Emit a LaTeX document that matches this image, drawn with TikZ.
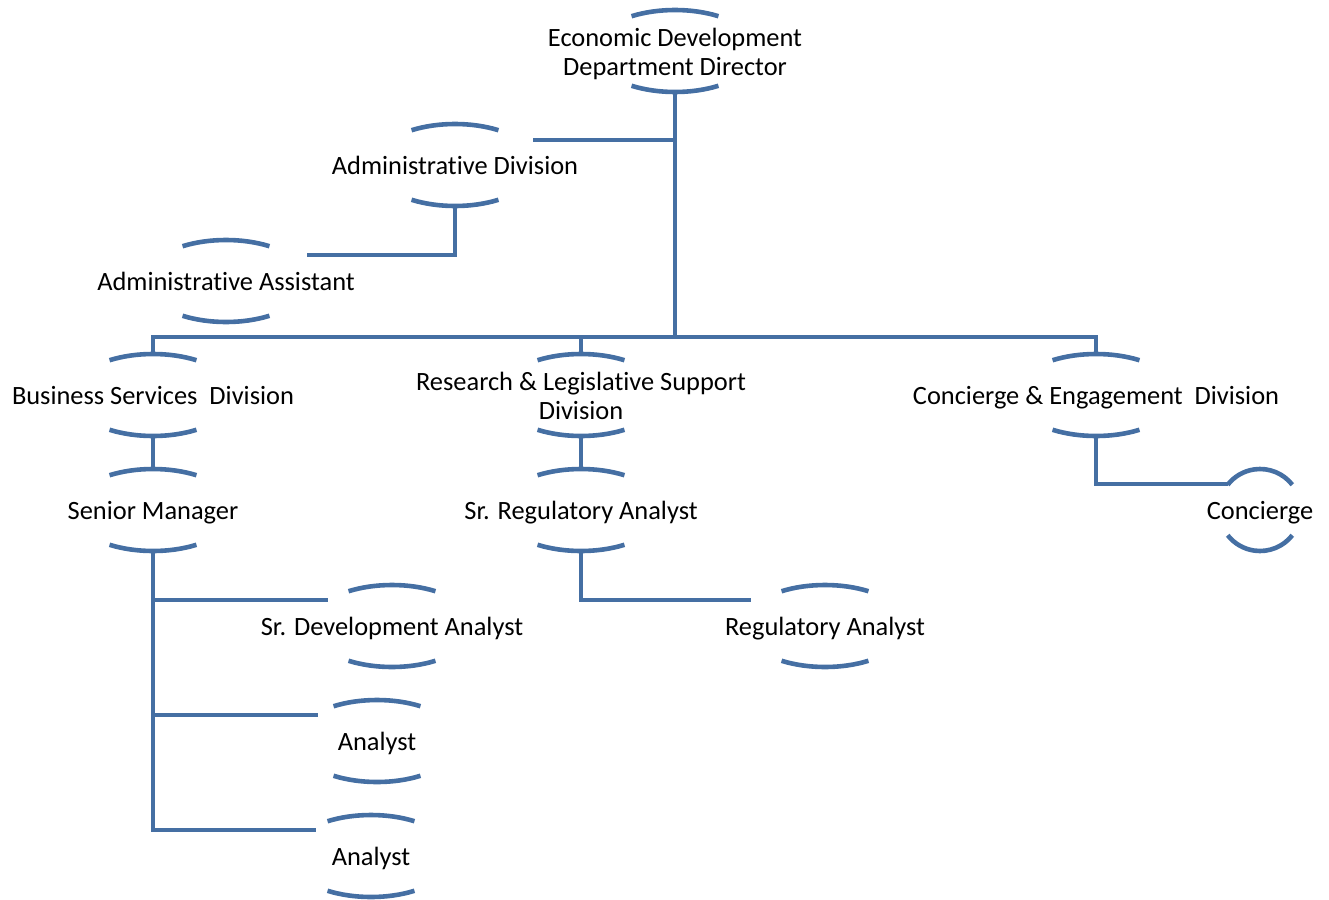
\documentclass[tikz,border=0pt]{standalone}
\usepackage{fontspec}
\setmainfont{Carlito}[Ligatures=CommonOff]
\usepackage{xcolor}
\usepackage{tikz}
\usetikzlibrary{calc}
\definecolor{orgblue}{RGB}{69,111,163}

\begin{document}
\begin{tikzpicture}[
 x=1pt,y=1pt,font=\fontsize{26.4}{28.5}\selectfont,
 unit/.style={minimum height=82,inner sep=0pt,align=center,
              text height=18,text depth=0},
 twoline/.style={text height=48.5,text depth=0},
 link/.style={draw=orgblue,line width=4pt},
 rim/.style={draw=orgblue,line width=4.6pt}]
\useasboundingbox (0,0) rectangle (1329,-899);
\node[unit,twoline] (dir) at (675,-51) {Economic Development\\Department Director};
\node[unit] (adiv) at (455,-165) {Administrative Division};
\node[unit] (aast) at (226,-281) {Administrative Assistant};
\node[unit] (bsd) at (153,-395) {Business Services~~Division};
\node[unit,twoline] (rls) at (581,-395) {Research \& Legislative Support\\Division};
\node[unit] (ced) at (1096,-395) {Concierge \& Engagement~~Division};
\node[unit] (smgr) at (153,-510) {Senior Manager};
\node[unit] (sra) at (581,-510) {Sr. Regulatory Analyst};
\node[unit] (conc) at (1260,-510) {Concierge};
\node[unit] (sda) at (392,-626) {Sr. Development Analyst};
\node[unit] (ran) at (825,-626) {Regulatory Analyst};
\node[unit] (an1) at (377,-741) {Analyst};
\node[unit] (an2) at (371,-856) {Analyst};
\foreach \n/\a/\t in {dir/82/58,adiv/82/58,aast/82/58,bsd/82/58,rls/82/58,
  ced/82/58,smgr/82/58,sra/82/58,conc/41/38,sda/82/58,ran/82/58,
  an1/82/58,an2/82/58}{
  \draw[rim] ($(\n.center)+({\a*cos(\t)},{41*sin(\t)})$)
   arc[start angle=\t,end angle={180-\t},x radius=\a,y radius=41];
  \draw[rim] ($(\n.center)+({\a*cos(\t)},{-41*sin(\t)})$)
   arc[start angle=-\t,end angle={-180+\t},x radius=\a,y radius=41];
}
\coordinate (bus) at (675,-337);
\draw[link] (dir.south) |- ($(adiv.center)+(78,25)$);
\draw[link] (adiv.south) |- ($(aast.center)+(81,26)$);
\draw[link] (dir.south) -- (bus) -| (bsd.north);
\draw[link] (bus) -| (rls.north);
\draw[link] (bus) -| (ced.north);
\draw[link] (bsd.south) -- (smgr.north);
\draw[link] (rls.south) -- (sra.north);
\draw[link] (ced.south) |- ($(conc.center)+(-32,26)$);
\draw[link] (smgr.south) |- ($(sda.center)+(-64,26)$);
\draw[link] (smgr.south) |- ($(an1.center)+(-59,26)$);
\draw[link] (smgr.south) |- ($(an2.center)+(-55,26)$);
\draw[link] (sra.south) |- ($(ran.center)+(-74,26)$);
\end{tikzpicture}
\end{document}
